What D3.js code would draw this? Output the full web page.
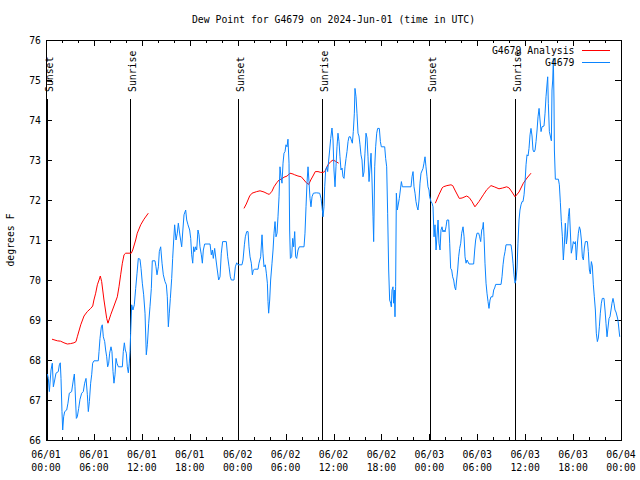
<!DOCTYPE html>
<html><head><meta charset="utf-8">
<script src="https://cdn.jsdelivr.net/npm/d3@7"></script>
<style>body{margin:0;background:#fff}svg{display:block}</style>
</head><body>
<svg id="c" width="640" height="480"></svg>
<script>
const chartTitle = "Dew Point for G4679 on 2024-Jun-01 (time in UTC)";
const yAxisTitle = "degrees F";
const yTicks = [66,67,68,69,70,71,72,73,74,75,76];
const xTickHours = [0,6,12,18,24,30,36,42,48,54,60,66,72];
const xTickDates = ["06/01","06/01","06/01","06/01","06/02","06/02","06/02","06/02","06/03","06/03","06/03","06/03","06/04"];
const xTickTimes = ["00:00","06:00","12:00","18:00","00:00","06:00","12:00","18:00","00:00","06:00","12:00","18:00","00:00"];
const eventLabels = ["Sunset","Sunrise","Sunset","Sunrise","Sunset","Sunrise"];
const eventHours = [0.13,10.52,24.08,34.6,48.12,58.69];
const seriesNames = ["G4679 Analysis","G4679"];
const seriesColors = ["#ff0000","#0a84ff"];

// hours since 2024-06-01 00:00 UTC, dew point (F); null = gap
const analysis = [
[0.75,68.52],[1.42,68.48],[1.83,68.47],[2.25,68.43],[2.67,68.40],[3.08,68.41],[3.5,68.43],[3.76,68.46],[3.92,68.58],[4.35,68.88],[4.76,69.10],[5.17,69.21],[5.6,69.29],[5.85,69.35],[6.0,69.5],[6.22,69.67],[6.43,69.88],[6.64,70.0],[6.8,70.1],[6.97,69.96],[7.26,69.5],[7.6,69.04],[7.76,68.92],[8.1,69.13],[8.51,69.35],[8.93,69.58],[9.14,69.83],[9.35,70.13],[9.56,70.42],[9.77,70.63],[9.98,70.67],[10.68,70.67],[10.86,70.75],[11.23,71.0],[11.43,71.17],[11.86,71.38],[12.27,71.52],[12.81,71.67],
null,
[24.79,71.79],[25.08,71.9],[25.29,72.0],[25.5,72.1],[25.8,72.17],[26.38,72.21],[26.8,72.23],[27.3,72.2],[27.7,72.16],[27.96,72.14],[28.3,72.22],[28.55,72.33],[28.89,72.43],[29.18,72.5],[29.55,72.53],[29.8,72.57],[30.2,72.6],[30.55,72.67],[30.93,72.65],[31.14,72.63],[31.55,72.6],[31.97,72.58],[32.31,72.5],[32.6,72.43],[32.9,72.39],[33.15,72.5],[33.43,72.6],[33.72,72.71],[34.06,72.71],[34.4,72.69],[34.69,72.69],[34.9,72.71],[35.1,72.79],[35.31,72.88],[35.65,72.96],[35.94,73.0],[36.23,72.97],[36.65,72.92],
null,
[48.75,71.92],[49.2,72.13],[49.6,72.3],[49.75,72.33],[50.2,72.36],[50.71,72.38],[50.93,72.36],[51.2,72.25],[51.75,72.04],[52.1,72.05],[52.68,72.1],[53.0,72.06],[53.35,71.96],[53.71,71.83],[54.21,71.96],[54.76,72.13],[55.2,72.26],[55.72,72.36],[56.13,72.33],[56.72,72.28],[57.18,72.3],[57.69,72.33],[58.0,72.3],[58.35,72.2],[58.73,72.08],[59.23,72.2],[59.77,72.42],[60.23,72.55],[60.73,72.67]
];

const observed = [
[0.17,67.65],[0.29,67.54],[0.42,67.21],[0.63,67.75],[0.79,67.92],[0.92,67.33],[1.09,67.5],[1.25,67.67],[1.54,67.71],[1.67,67.88],[1.79,67.93],[1.88,67.54],[2.0,66.71],[2.09,66.25],[2.21,66.58],[2.34,66.71],[2.59,66.75],[2.75,66.92],[2.92,67.17],[3.21,67.21],[3.42,67.5],[3.55,67.65],[3.63,67.33],[3.8,66.54],[3.92,66.58],[4.09,66.79],[4.26,67.02],[4.47,67.17],[4.67,67.21],[4.84,67.42],[5.01,67.54],[5.18,67.13],[5.3,66.71],[5.43,66.96],[5.59,67.42],[5.72,67.63],[5.84,67.92],[6.01,67.98],[6.55,67.98],[6.64,68.21],[6.76,68.54],[6.93,68.83],[7.05,68.88],[7.18,68.58],[7.35,68.46],[7.47,68.25],[7.6,68.08],[7.72,67.83],[7.85,67.92],[7.97,68.17],[8.14,68.33],[8.26,68.21],[8.39,67.71],[8.51,67.42],[8.64,67.63],[8.77,68.04],[8.89,67.92],[9.06,67.83],[9.56,67.83],[9.68,68.21],[9.81,68.43],[9.93,68.25],[10.06,68.17],[10.18,67.83],[10.31,67.68],[10.43,67.92],[10.52,68.21],[10.6,68.67],[10.73,69.38],[10.89,69.25],[11.06,69.38],[11.23,69.79],[11.4,70.17],[11.56,70.54],[11.77,70.52],[11.9,70.29],[12.06,69.92],[12.23,69.63],[12.4,69.17],[12.56,68.13],[12.69,68.38],[12.86,68.92],[13.02,69.33],[13.19,69.79],[13.31,70.48],[13.65,70.48],[13.77,70.33],[13.9,70.13],[14.07,70.33],[14.19,70.71],[14.36,70.83],[14.53,70.42],[14.69,70.13],[14.9,69.96],[15.07,69.88],[15.19,69.58],[15.32,68.83],[15.44,69.17],[15.57,69.54],[15.74,70.04],[15.86,70.54],[15.99,71.0],[16.11,71.38],[16.28,71.0],[16.44,71.17],[16.57,71.42],[16.78,71.1],[16.99,70.83],[17.12,71.2],[17.28,71.63],[17.49,71.75],[17.62,71.5],[17.78,71.38],[17.99,71.25],[18.12,71.04],[18.24,70.63],[18.37,70.42],[18.49,70.83],[18.62,70.71],[18.74,70.83],[18.87,70.75],[19.03,71.25],[19.16,71.13],[19.28,70.83],[19.45,70.63],[19.58,70.42],[19.7,70.75],[19.87,70.9],[20.54,70.9],[20.7,70.63],[20.83,70.75],[20.95,70.54],[21.12,70.79],[21.29,70.5],[21.45,70.25],[21.62,70.0],[21.79,70.08],[21.95,70.67],[22.12,70.96],[22.58,70.96],[22.75,70.58],[22.92,70.33],[23.08,70.08],[23.21,70.0],[23.54,70.0],[23.71,70.33],[23.88,70.43],[24.04,70.38],[24.54,70.38],[24.67,70.5],[24.84,70.88],[24.96,71.08],[25.13,71.21],[25.3,71.21],[25.42,70.83],[25.55,70.58],[25.71,70.42],[25.84,70.13],[25.96,70.25],[26.13,70.27],[26.55,70.27],[26.67,70.42],[26.88,70.58],[27.05,71.13],[27.17,70.67],[27.3,70.33],[27.46,70.38],[27.59,70.17],[27.72,69.92],[27.8,69.46],[27.88,69.17],[28.01,69.5],[28.13,70.0],[28.3,70.42],[28.43,70.75],[28.55,71.17],[28.68,71.46],[28.8,71.08],[28.93,71.17],[29.05,71.58],[29.18,72.08],[29.3,72.83],[29.43,72.58],[29.55,72.42],[29.68,72.92],[29.8,73.17],[29.93,73.21],[30.05,73.38],[30.18,73.33],[30.3,73.52],[30.43,72.92],[30.51,71.25],[30.6,70.54],[30.76,70.58],[30.89,71.04],[31.01,70.83],[31.14,71.21],[31.26,70.58],[31.39,70.54],[31.56,70.75],[31.72,70.83],[32.31,70.83],[32.43,71.17],[32.56,71.83],[32.68,72.42],[32.81,72.83],[32.93,72.46],[33.06,72.04],[33.18,71.83],[33.31,72.08],[33.48,72.17],[33.85,72.18],[34.27,72.17],[34.44,72.04],[34.56,71.83],[34.69,71.58],[34.81,71.83],[34.9,72.33],[35.02,72.75],[35.15,72.83],[35.27,72.71],[35.4,73.0],[35.52,73.25],[35.65,73.54],[35.81,73.8],[35.94,73.5],[36.06,72.75],[36.19,72.33],[36.31,72.83],[36.44,73.33],[36.56,73.67],[36.69,73.46],[36.81,73.08],[36.94,72.75],[37.07,72.8],[37.19,72.58],[37.32,72.54],[37.44,72.83],[37.57,73.04],[37.69,73.21],[37.82,73.46],[37.94,73.58],[38.11,73.58],[38.23,73.5],[38.36,73.42],[38.48,73.71],[38.61,74.17],[38.69,74.79],[38.82,74.58],[38.94,74.17],[39.07,73.67],[39.19,73.6],[39.32,73.38],[39.44,73.13],[39.57,73.0],[39.69,72.58],[39.82,72.7],[39.94,73.17],[40.07,73.67],[40.2,73.55],[40.32,73.08],[40.45,72.46],[40.57,72.8],[40.7,73.17],[40.82,72.5],[40.95,71.58],[41.03,70.96],[41.16,72.83],[41.28,73.33],[41.41,73.67],[41.53,73.79],[41.74,73.79],[41.87,73.46],[41.99,73.33],[42.41,73.33],[42.53,73.04],[42.66,72.83],[42.78,71.67],[42.91,70.25],[43.03,69.5],[43.16,69.42],[43.24,69.33],[43.33,69.75],[43.45,69.83],[43.53,69.42],[43.62,69.75],[43.7,69.08],[43.78,69.83],[43.87,72.17],[43.99,71.75],[44.12,71.9],[44.24,72.04],[44.37,72.25],[44.5,72.46],[44.62,72.33],[45.71,72.33],[45.83,72.58],[45.96,72.71],[46.08,72.33],[46.21,72.17],[46.33,71.96],[46.46,71.83],[46.58,71.75],[46.71,72.0],[46.83,72.42],[46.96,72.67],[47.21,72.79],[47.33,72.92],[47.46,73.08],[47.58,72.83],[47.71,72.58],[47.83,72.33],[47.96,72.25],[48.04,72.08],[48.21,71.96],[48.34,71.92],[48.46,71.83],[48.59,71.08],[48.71,71.38],[48.84,70.75],[48.96,71.1],[49.09,71.5],[49.21,70.92],[49.34,70.75],[49.46,71.25],[49.59,71.33],[49.71,71.2],[49.84,71.25],[49.96,71.2],[50.09,71.33],[50.21,71.5],[50.42,71.5],[50.55,70.92],[50.67,70.29],[50.8,70.25],[50.92,70.08],[51.05,70.0],[51.17,69.83],[51.3,69.75],[51.42,70.0],[51.55,70.25],[51.67,70.58],[51.8,70.79],[51.93,70.92],[52.05,71.17],[52.22,71.33],[52.35,71.08],[52.47,70.58],[52.6,70.42],[52.72,70.5],[52.85,70.45],[52.97,70.4],[53.55,70.4],[53.68,70.75],[53.8,71.0],[53.97,71.17],[54.18,71.17],[54.3,71.08],[54.43,70.96],[54.56,71.25],[54.68,71.3],[54.76,71.44],[54.85,71.08],[54.97,70.42],[55.1,69.92],[55.22,69.67],[55.35,69.46],[55.47,69.29],[55.6,69.5],[55.72,69.58],[55.93,69.58],[56.06,69.75],[56.18,69.8],[56.31,69.89],[56.98,69.89],[57.1,70.08],[57.23,70.38],[57.35,70.58],[57.48,70.71],[57.6,70.88],[58.23,70.88],[58.35,70.7],[58.48,70.42],[58.6,70.13],[58.73,69.92],[58.85,70.0],[58.98,70.3],[59.1,70.92],[59.23,71.5],[59.35,71.75],[59.48,71.88],[59.61,71.96],[59.73,71.96],[59.86,72.13],[59.98,72.42],[60.11,72.88],[60.23,73.13],[60.36,73.1],[60.48,73.29],[60.61,73.63],[60.73,73.79],[60.86,73.6],[60.98,73.25],[61.11,73.2],[61.24,73.25],[61.36,73.46],[61.49,73.75],[61.61,74.08],[61.74,74.29],[61.86,74.0],[61.99,73.71],[62.11,73.83],[62.36,73.85],[62.49,74.17],[62.61,74.58],[62.74,74.9],[62.82,75.08],[62.9,74.42],[63.03,73.71],[63.28,73.48],[63.36,74.75],[63.45,75.0],[63.53,75.54],[63.61,74.5],[63.66,73.25],[63.78,72.52],[64.16,72.52],[64.28,72.38],[64.41,71.93],[64.53,71.46],[64.66,71.08],[64.78,70.5],[64.91,70.9],[65.03,71.42],[65.16,70.9],[65.28,71.1],[65.41,71.58],[65.53,71.79],[65.66,71.2],[65.78,70.67],[65.91,70.8],[66.03,70.96],[66.16,70.9],[66.29,70.96],[66.41,70.5],[66.54,70.9],[66.66,71.17],[66.79,71.33],[66.91,71.25],[67.04,71.0],[67.16,70.58],[67.29,70.5],[67.41,70.8],[67.54,70.96],[67.79,70.96],[67.91,70.71],[68.04,70.25],[68.16,70.15],[68.29,70.46],[68.41,70.35],[68.54,69.88],[68.66,69.58],[68.79,69.25],[68.91,68.67],[69.04,68.46],[69.16,68.55],[69.29,68.83],[69.41,69.17],[69.54,69.42],[69.66,69.54],[69.87,69.54],[70.0,69.25],[70.12,68.92],[70.25,68.58],[70.37,68.8],[70.5,69.04],[70.62,69.08],[70.75,69.25],[70.87,69.42],[71.0,69.54],[71.12,69.42],[71.25,69.25],[71.37,69.2],[71.5,69.1],[71.62,69.0],[71.75,68.75],[71.84,68.58]
];

const L = 46, R = 621, T = 40, B = 440;
const CW = 5.9;
const FONT = "'DejaVu Sans Mono', 'Liberation Mono', monospace";
const svg = d3.select("#c");
const x = d3.scaleLinear().domain([0,72]).range([L,R]);
const y = d3.scaleLinear().domain([66,76]).range([B,T]);

function fit(sel){
  sel.attr("font-family",FONT).attr("font-size","11px").attr("fill","#000")
     .attr("lengthAdjust","spacingAndGlyphs")
     .attr("textLength", function(){ return this.textContent.length*CW; });
  return sel;
}

svg.append("rect").attr("width",640).attr("height",480).attr("fill","#fff");

// title
svg.append("text").attr("x",(L+R)/2).attr("y",23).attr("text-anchor","middle").text(chartTitle).call(fit);

// y axis title
svg.append("text").attr("transform","translate(14,240) rotate(-90)").attr("text-anchor","middle").text(yAxisTitle).call(fit);

// ticks via axes
const minorHours = d3.range(0,73,2).filter(h=>h%6!==0);
function noDomain(g){ g.select(".domain").remove(); g.selectAll("line").attr("stroke","#000").attr("shape-rendering","crispEdges"); }
svg.append("g").attr("transform",`translate(0,${B})`).call(d3.axisBottom(x).tickValues(xTickHours).tickSize(-6).tickFormat("")).call(noDomain);
svg.append("g").attr("transform",`translate(0,${B})`).call(d3.axisBottom(x).tickValues(minorHours).tickSize(-3).tickFormat("")).call(noDomain);
svg.append("g").attr("transform",`translate(0,${T})`).call(d3.axisTop(x).tickValues(xTickHours).tickSize(-6).tickFormat("")).call(noDomain);
svg.append("g").attr("transform",`translate(0,${T})`).call(d3.axisTop(x).tickValues(minorHours).tickSize(-3).tickFormat("")).call(noDomain);
const gl = svg.append("g").attr("transform",`translate(${L},0)`).call(d3.axisLeft(y).tickValues(yTicks).tickSize(-6).tickPadding(5).tickFormat(d3.format("d"))).call(noDomain);
gl.selectAll("text").call(fit).attr("dy","0.35em");
svg.append("g").attr("transform",`translate(${R},0)`).call(d3.axisRight(y).tickValues(yTicks).tickSize(-6).tickFormat("")).call(noDomain);

// x tick labels (two lines)
const xl = svg.append("g");
xTickHours.forEach((h,i)=>{
  xl.append("text").attr("x",x(h)).attr("y",458).attr("text-anchor","middle").text(xTickDates[i]).call(fit);
  xl.append("text").attr("x",x(h)).attr("y",471).attr("text-anchor","middle").text(xTickTimes[i]).call(fit);
});

// event lines (sunrise / sunset)
eventHours.forEach((h,i)=>{
  const xx = Math.round(x(h))+0.5;
  svg.append("line").attr("x1",xx).attr("x2",xx).attr("y1",99).attr("y2",B)
    .attr("stroke","#000").attr("stroke-width",1);
  svg.append("text").attr("transform",`translate(${xx+5},92) rotate(-90)`).attr("text-anchor","start").text(eventLabels[i]).call(fit);
});

// series
const line = d3.line().defined(d=>d!==null).x(d=>x(d[0])).y(d=>y(d[1]));
svg.append("path").datum(analysis).attr("d",line).attr("fill","none").attr("stroke",seriesColors[0]).attr("stroke-width",1);
svg.append("path").datum(observed).attr("d",line).attr("fill","none").attr("stroke",seriesColors[1]).attr("stroke-width",1);

// border
svg.append("rect").attr("x",L+0.5).attr("y",T+0.5).attr("width",R-L).attr("height",B-T)
  .attr("fill","none").attr("stroke","#000").attr("stroke-width",1).attr("shape-rendering","crispEdges");

// legend
const legY = [50,62];
seriesNames.forEach((n,i)=>{
  svg.append("text").attr("x",574.5).attr("y",legY[i]+4).attr("text-anchor","end").text(n).call(fit);
  svg.append("line").attr("x1",582).attr("x2",610).attr("y1",legY[i]+0.5).attr("y2",legY[i]+0.5)
    .attr("stroke",seriesColors[i]).attr("stroke-width",1);
});
</script>
</body></html>
